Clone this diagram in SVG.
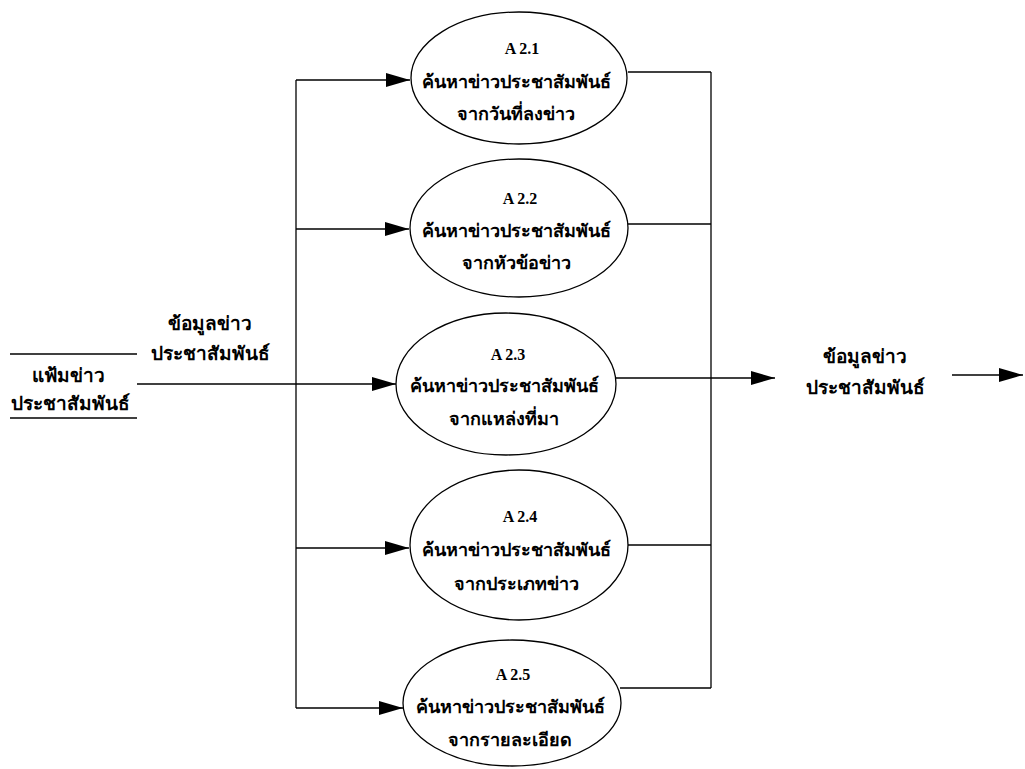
<svg xmlns="http://www.w3.org/2000/svg" width="1025" height="769" viewBox="0 0 1025 769">
<defs>
<marker id="ah" markerWidth="24" markerHeight="14" refX="24" refY="7" orient="auto" markerUnits="userSpaceOnUse"><path d="M0,0 L24,7 L0,14 Z" fill="#000"/></marker>
<style>
.e{fill:#fff;stroke:#000;stroke-width:1.3}
.l{fill:none;stroke:#000;stroke-width:1.3}
.a{fill:none;stroke:#000;stroke-width:1.3;marker-end:url(#ah)}
.t{font-family:"Liberation Serif","Noto Sans",serif;font-weight:bold;font-size:19px;text-anchor:middle;fill:#000}
.p{font-size:18px}
.n{font-family:"Liberation Serif",serif;font-weight:bold;font-size:16px;text-anchor:middle;fill:#000}
</style>
</defs>
<rect width="1025" height="769" fill="#fff"/>
<g id="connectors">
<line class="l" x1="296" y1="80" x2="296" y2="708"/>
<line class="a" x1="296" y1="80" x2="410" y2="80"/>
<line class="a" x1="296" y1="229" x2="409" y2="229"/>
<line class="a" x1="137" y1="384" x2="396" y2="384"/>
<line class="a" x1="296" y1="548" x2="409" y2="548"/>
<line class="a" x1="296" y1="708" x2="403" y2="708"/>
<line class="l" x1="711" y1="72" x2="711" y2="688"/>
<line class="l" x1="628" y1="72" x2="711" y2="72"/>
<line class="l" x1="628" y1="224" x2="711" y2="224"/>
<line class="a" x1="615" y1="378" x2="775" y2="378"/>
<line class="l" x1="628" y1="545" x2="711" y2="545"/>
<line class="l" x1="620" y1="688" x2="711" y2="688"/>
<line class="a" x1="952" y1="375" x2="1023" y2="375"/>
</g>
<g id="store">
<line class="l" x1="10" y1="354" x2="137" y2="354"/>
<line class="l" x1="10" y1="418" x2="137" y2="418"/>
<text class="t" x="68" y="382">แฟ้มข่าว</text>
<text class="t" x="70" y="410">ประชาสัมพันธ์</text>
</g>
<g id="label-in">
<text class="t" x="210" y="330">ข้อมูลข่าว</text>
<text class="t" x="210" y="360">ประชาสัมพันธ์</text>
</g>
<g id="label-out">
<text class="t" x="865" y="363">ข้อมูลข่าว</text>
<text class="t" x="865" y="394">ประชาสัมพันธ์</text>
</g>
<g id="p21">
<ellipse class="e" cx="519" cy="78" rx="108" ry="66"/>
<text class="n" x="522" y="54">A 2.1</text>
<text class="t p" x="516" y="88">ค้นหาข่าวประชาสัมพันธ์</text>
<text class="t p" x="516" y="120">จากวันที่ลงข่าว</text>
</g>
<g id="p22">
<ellipse class="e" cx="519" cy="228" rx="109" ry="69"/>
<text class="n" x="520" y="204">A 2.2</text>
<text class="t p" x="516" y="237">ค้นหาข่าวประชาสัมพันธ์</text>
<text class="t p" x="516" y="269">จากหัวข้อข่าว</text>
</g>
<g id="p23">
<ellipse class="e" cx="506" cy="384" rx="110" ry="71"/>
<text class="n" x="508" y="360">A 2.3</text>
<text class="t p" x="504" y="392">ค้นหาข่าวประชาสัมพันธ์</text>
<text class="t p" x="504" y="425">จากแหล่งที่มา</text>
</g>
<g id="p24">
<ellipse class="e" cx="519" cy="545" rx="109" ry="75"/>
<text class="n" x="520" y="522">A 2.4</text>
<text class="t p" x="516" y="556">ค้นหาข่าวประชาสัมพันธ์</text>
<text class="t p" x="516" y="590">จากประเภทข่าว</text>
</g>
<g id="p25">
<ellipse class="e" cx="512" cy="703" rx="109" ry="63"/>
<text class="n" x="513" y="680">A 2.5</text>
<text class="t p" x="510" y="713">ค้นหาข่าวประชาสัมพันธ์</text>
<text class="t p" x="510" y="746">จากรายละเอียด</text>
</g>
</svg>
